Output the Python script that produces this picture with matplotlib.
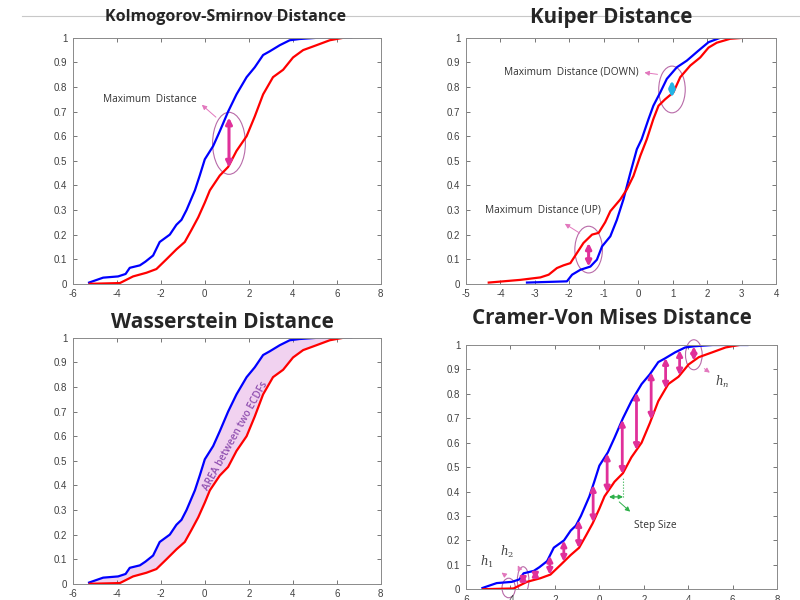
import numpy as np
import matplotlib.pyplot as plt
from matplotlib.patches import Ellipse
from matplotlib.lines import Line2D

# ECDF samples (shared by KS, Wasserstein and CvM panels)
ks_blue_x = [-5.26, -4.62, -3.94, -3.6, -3.41, -2.95, -2.7, -2.35, -2.05, -1.59, -1.29, -1.06,
             -0.83, -0.45, -0.23, 0.0, 0.38, 0.68, 1.06, 1.44, 1.9, 2.27, 2.65, 2.95, 3.41,
             3.86, 4.3, 5.1, 6.66]
ks_blue_y = [0.005, 0.025, 0.03, 0.04, 0.065, 0.075, 0.09, 0.115, 0.17, 0.2, 0.24, 0.26,
             0.3, 0.38, 0.44, 0.506, 0.56, 0.62, 0.70, 0.77, 0.84, 0.88, 0.93, 0.945, 0.97,
             0.99, 0.995, 1.0, 1.0]
ks_red_x = [-5.23, -3.86, -3.26, -2.65, -2.2, -1.74, -1.29, -0.91, -0.6, -0.3, 0.0, 0.23,
            0.68, 1.06, 1.44, 1.9, 2.27, 2.65, 3.1, 3.56, 4.01, 4.47, 5.08, 5.68, 6.29]
ks_red_y = [0.0, 0.003, 0.03, 0.045, 0.06, 0.1, 0.14, 0.17, 0.22, 0.27, 0.33, 0.38,
            0.44, 0.475, 0.54, 0.6, 0.68, 0.77, 0.84, 0.87, 0.92, 0.95, 0.97, 0.99, 1.0]

# Kuiper panel curves
kp_red_x = [-4.34, -3.42, -2.84, -2.6, -2.36, -2.17, -1.97, -1.78, -1.59, -1.34, -1.15, -0.96,
            -0.81, -0.52, -0.33, -0.14, 0.06, 0.25, 0.44, 0.59, 0.78, 1.02, 1.22, 1.51, 1.8,
            2.04, 2.28, 2.67, 3.06, 3.83]
kp_red_y = [0.005, 0.016, 0.026, 0.037, 0.064, 0.075, 0.084, 0.125, 0.166, 0.2, 0.207, 0.25,
            0.295, 0.343, 0.384, 0.438, 0.52, 0.588, 0.67, 0.724, 0.75, 0.778, 0.84, 0.887,
            0.92, 0.96, 0.98, 0.996, 1.0, 1.0]
kp_blue_x = [-3.23, -2.07, -1.92, -1.68, -1.39, -1.2, -1.05, -0.81, -0.62, -0.43, -0.23, -0.04,
             0.1, 0.3, 0.44, 0.64, 0.83, 1.12, 1.41, 1.75, 2.04, 2.38, 3.06]
kp_blue_y = [0.005, 0.01, 0.037, 0.057, 0.07, 0.098, 0.152, 0.193, 0.26, 0.343, 0.45, 0.547,
             0.588, 0.67, 0.724, 0.778, 0.833, 0.88, 0.907, 0.948, 0.982, 1.0, 1.0]

# Cramer-von Mises vertical distances
cvm_arrow_x = [-3.43, -2.88, -2.23, -1.6, -0.93, -0.28, 0.35, 1.03, 1.67, 2.33, 2.98, 3.61, 4.25]

y_ticks = [0, 0.1, 0.2, 0.3, 0.4, 0.5, 0.6, 0.7, 0.8, 0.9, 1]
y_labels = ["0", "0.1", "0.2", "0.3", "0.4", "0.5", "0.6", "0.7", "0.8", "0.9", "1"]

MAG = "#e0309a"
ELL = "#b86aa8"
THIN = "#e277bd"

plt.rcParams["mathtext.fontset"] = "dejavuserif"

fig = plt.figure(figsize=(8, 6), dpi=100)
fig.add_artist(Line2D([0.027, 1.0], [0.973, 0.973], color="#c8c8c8", lw=0.8))


def style_axes(ax, xlim, xticks):
    ax.set_xlim(*xlim)
    ax.set_ylim(0, 1)
    ax.set_xticks(xticks)
    ax.set_xticklabels([str(t) for t in xticks], fontfamily="Liberation Sans")
    ax.set_yticks(y_ticks)
    ax.set_yticklabels(y_labels, fontfamily="Liberation Sans")
    ax.tick_params(direction="in", length=3, width=0.6, labelsize=7, labelcolor="#404040",
                   color="#606060", top=True, right=True, pad=4)
    for s in ax.spines.values():
        s.set_color("#8a8a8a")
        s.set_linewidth(0.7)


def curves(ax, bx, by, rx, ry):
    ax.plot(bx, by, color="#0000ff", lw=1.6)
    ax.plot(rx, ry, color="#ff0000", lw=1.6)


def thin_arrow(ax, head, tail, color=THIN):
    ax.annotate("", xy=head, xytext=tail,
                arrowprops=dict(arrowstyle="-|>", color=color, lw=0.7, mutation_scale=7))


def dbl_arrow(ax, x, y0, y1, color=MAG, lw=2.2, ms=9):
    ax.annotate("", xy=(x, y1), xytext=(x, y0),
                arrowprops=dict(arrowstyle="<|-|>", color=color, lw=lw, mutation_scale=ms,
                                shrinkA=0, shrinkB=0))


title_kw = dict(fontfamily="Open Sans", fontweight="bold", color="#262626", ha="center", va="center")
label_kw = dict(fontfamily="Open Sans", fontsize=7.3, color="#333333")

# Kolmogorov-Smirnov
ax1 = fig.add_axes([0.091, 0.527, 0.385, 0.41])
curves(ax1, ks_blue_x, ks_blue_y, ks_red_x, ks_red_y)
style_axes(ax1, (-6, 8), [-6, -4, -2, 0, 2, 4, 6, 8])
ax1.add_patch(Ellipse((1.1, 0.571), 1.49, 0.252, fill=False, edgecolor=ELL, lw=0.8))
dbl_arrow(ax1, 1.1, 0.472, 0.676)
thin_arrow(ax1, (-0.23, 0.735), (0.6, 0.67))
ax1.text(-4.62, 0.748, "Maximum  Distance", va="center", **label_kw)
fig.text(0.2825, 0.972, "Kolmogorov-Smirnov Distance", fontsize=11.5, **title_kw)

# Kuiper
ax2 = fig.add_axes([0.5825, 0.527, 0.3875, 0.41])
curves(ax2, kp_blue_x, kp_blue_y, kp_red_x, kp_red_y)
style_axes(ax2, (-5, 4), [-5, -4, -3, -2, -1, 0, 1, 2, 3, 4])
ax2.add_patch(Ellipse((0.98, 0.79), 0.77, 0.19, fill=False, edgecolor=ELL, lw=0.8))
ax2.add_patch(Ellipse((-1.44, 0.139), 0.8, 0.19, fill=False, edgecolor=ELL, lw=0.8))
dbl_arrow(ax2, 0.98, 0.758, 0.826, color="#22b5e6", ms=8)
dbl_arrow(ax2, -1.44, 0.07, 0.166, ms=8)
thin_arrow(ax2, (0.1, 0.86), (0.64, 0.85))
thin_arrow(ax2, (-2.2, 0.25), (-1.63, 0.2))
ax2.text(-3.89, 0.86, "Maximum  Distance (DOWN)", va="center", **label_kw)
ax2.text(-4.44, 0.30, "Maximum  Distance (UP)", va="center", **label_kw)
fig.text(0.764, 0.97, "Kuiper Distance", fontsize=14.8, **title_kw)

# Wasserstein
ax3 = fig.add_axes([0.091, 0.027, 0.385, 0.41])
ax3.fill(np.concatenate([ks_blue_x, ks_red_x[::-1]]),
         np.concatenate([ks_blue_y, ks_red_y[::-1]]), color="#f1d2f0", lw=0)
curves(ax3, ks_blue_x, ks_blue_y, ks_red_x, ks_red_y)
style_axes(ax3, (-6, 8), [-6, -4, -2, 0, 2, 4, 6, 8])
ax3.text(1.39, 0.6, "AREA between two ECDFs", rotation=61, ha="center", va="center",
         fontfamily="Open Sans", fontweight="semibold", fontsize=7.2, color="#9050b0")
fig.text(0.2775, 0.463, "Wasserstein Distance", fontsize=15, **title_kw)

# Cramer-Von Mises
ax4 = fig.add_axes([0.5825, 0.018, 0.389, 0.407])
curves(ax4, ks_blue_x, ks_blue_y, ks_red_x, ks_red_y)
style_axes(ax4, (-6, 8), [-6, -4, -2, 0, 2, 4, 6, 8])
for xa in cvm_arrow_x:
    yb = np.interp(xa, ks_blue_x, ks_blue_y)
    yr = np.interp(xa, ks_red_x, ks_red_y)
    if yb - yr > 0.03:
        dbl_arrow(ax4, xa, yr, yb, lw=2.0, ms=8)
    else:
        dbl_arrow(ax4, xa, yr, yb, lw=1.4, ms=5)
ax4.add_patch(Ellipse((-4.08, 0.005), 0.6, 0.08, fill=False, edgecolor=ELL, lw=0.8, clip_on=False))
ax4.add_patch(Ellipse((-3.43, 0.037), 0.52, 0.11, fill=False, edgecolor=ELL, lw=0.8))
ax4.add_patch(Ellipse((4.25, 0.96), 0.75, 0.123, fill=False, edgecolor=ELL, lw=0.8, clip_on=False))
thin_arrow(ax4, (-4.5, 0.075), (-4.24, 0.057))
thin_arrow(ax4, (-3.72, 0.108), (-3.57, 0.078))
thin_arrow(ax4, (5.07, 0.88), (4.62, 0.91))
ax4.text(-5.07, 0.112, "$h_1$", fontsize=8.5, color="#404040", ha="center", va="center")
ax4.text(-4.17, 0.153, "$h_2$", fontsize=8.5, color="#404040", ha="center", va="center")
ax4.text(5.52, 0.85, "$h_n$", fontsize=8.5, color="#404040", ha="center", va="center")
# step size marker
ax4.plot([1.07, 1.07], [0.378, 0.46], color="#2eb04a", lw=0.8, ls=":")
ax4.annotate("", xy=(0.43, 0.378), xytext=(1.07, 0.378),
             arrowprops=dict(arrowstyle="<|-|>", color="#2eb04a", lw=1.0, mutation_scale=6,
                             shrinkA=0, shrinkB=0))
thin_arrow(ax4, (1.48, 0.31), (0.8, 0.365), color="#2eb04a")
ax4.text(1.55, 0.26, "Step Size", va="center", **label_kw)
fig.text(0.765, 0.47, "Cramer-Von Mises Distance", fontsize=14.8, **title_kw)

fig.savefig("out.png", dpi=100)
